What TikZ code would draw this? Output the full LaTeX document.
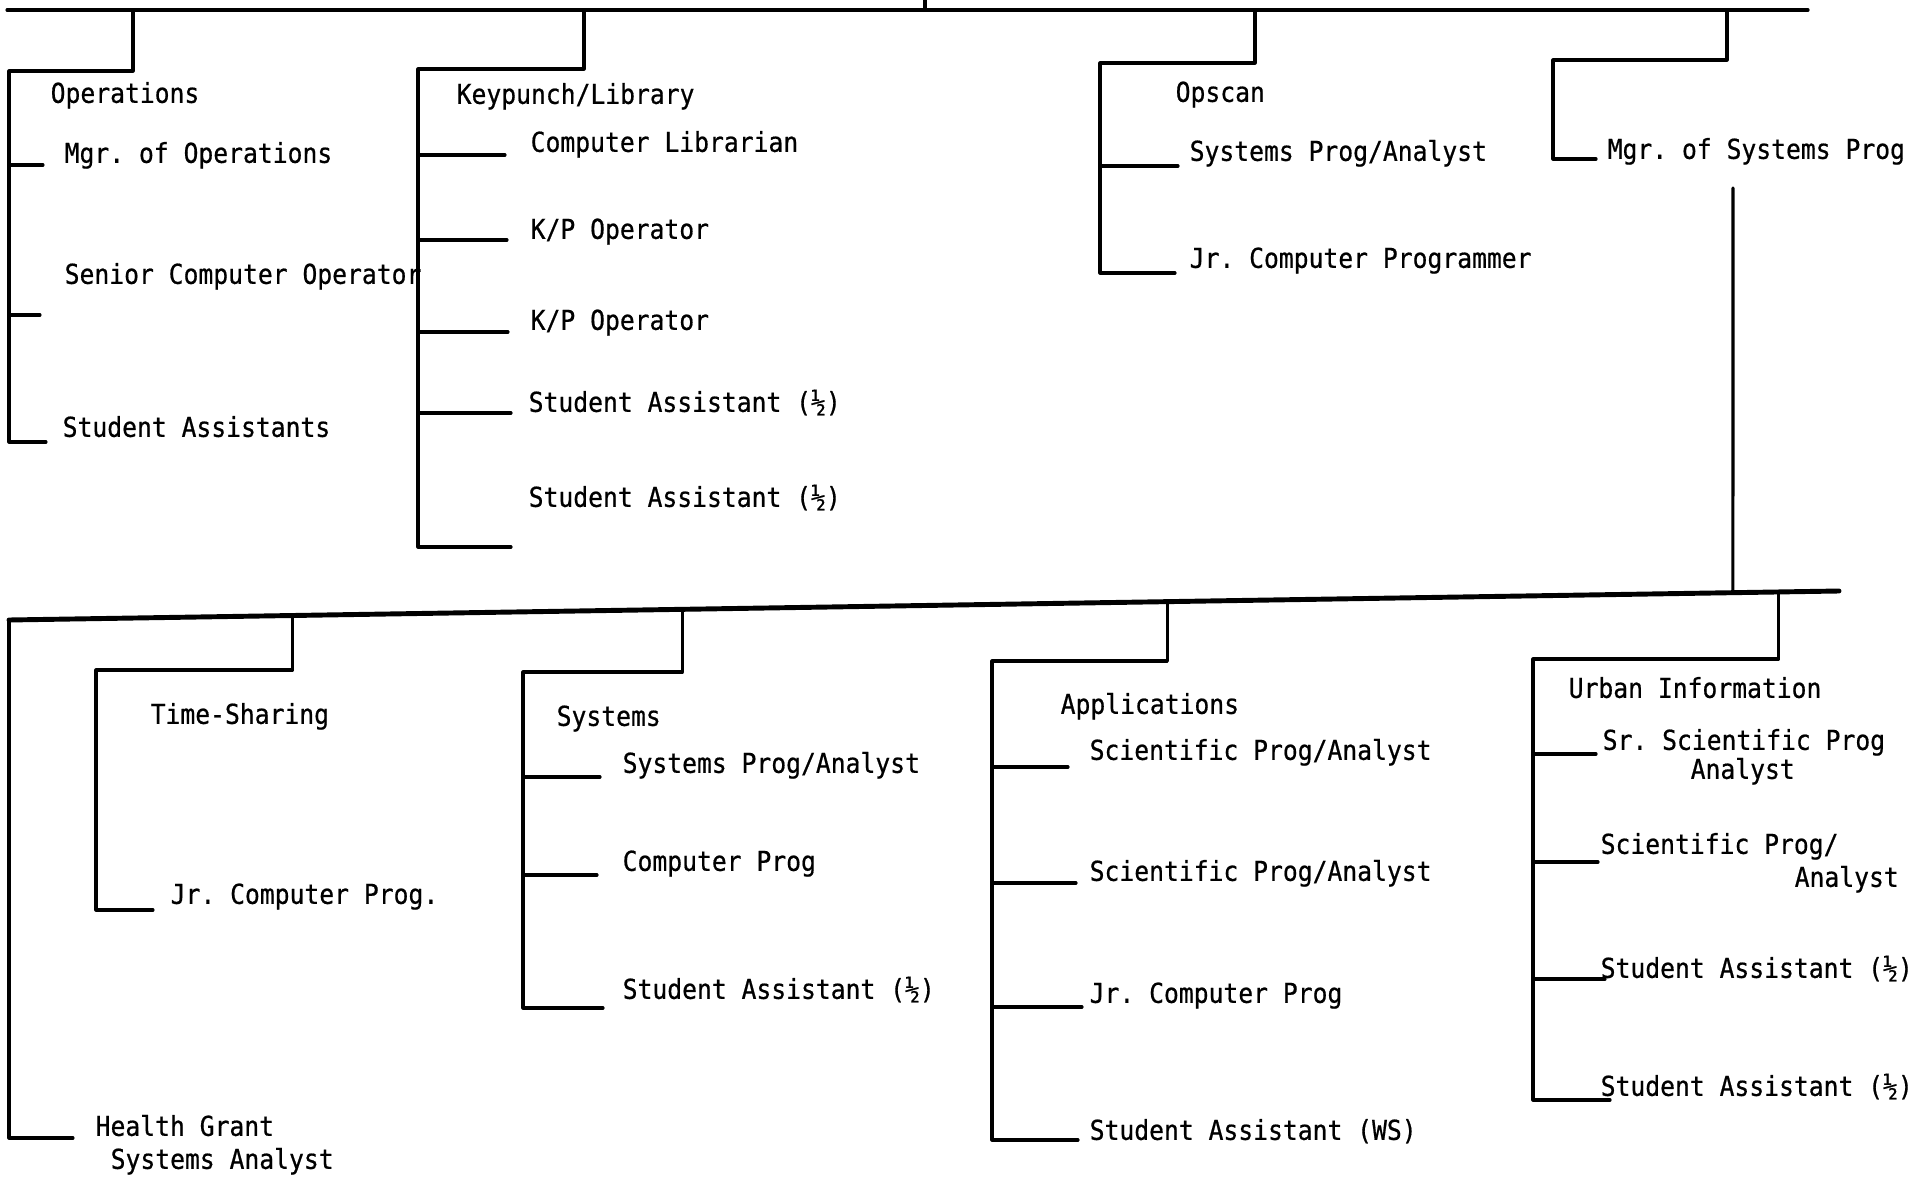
\documentclass[tikz,border=0pt]{standalone}
\usepackage{fontspec}
\setmonofont[FakeStretch=0.9, FakeBold=0.6]{DejaVu Sans Mono}
\usetikzlibrary{calc}

\begin{document}
\begin{tikzpicture}[x=0.01cm, y=-0.01cm, line cap=round, line join=round,
	org/.style={line width=0.9pt},
	trunk/.style={line width=1.4pt},
	lbl/.style={anchor=west, inner sep=0pt, text height=5.6pt, text depth=0pt,
		font=\ttfamily\fontsize{7.8pt}{9pt}\selectfont}]
\useasboundingbox (0,0) rectangle (1924,1179);

%========================
% Upper level
%========================
\coordinate (up) at (925,0);
\coordinate (topL) at (7,10);
\coordinate (topR) at (1808,10);
\draw[org] (topL) -- (topR);
\draw[org] (up) -- (up |- topL);

% Operations
\node[lbl] (ops) at (50,93) {Operations};
\node[lbl] (mgrops) at (64,153) {Mgr. of Operations};
\node[lbl] (senop) at (64,274) {Senior Computer Operator};
\node[lbl] (opsstu) at (62,427) {Student Assistants};
\coordinate (ops-drop) at (133,71);
\coordinate (ops-bus) at (9,71);
\coordinate (t-mgrops) at (43,165);
\coordinate (t-senop) at (40,315);
\coordinate (t-opsstu) at (46,442);
\draw[org] (ops-drop |- topL) -- (ops-drop) -- (ops-bus) -- (ops-bus |- t-opsstu) -- (t-opsstu);
\foreach \t in {t-mgrops, t-senop}
	\draw[org] (ops-bus |- \t) -- (\t);

% Keypunch/Library
\node[lbl] (kp) at (456,94) {Keypunch/Library};
\node[lbl] (complib) at (530,142) {Computer Librarian};
\node[lbl] (kpop1) at (530,229) {K/P Operator};
\node[lbl] (kpop2) at (530,320) {K/P Operator};
\node[lbl] (kpstu1) at (528,402) {Student Assistant (½)};
\node[lbl] (kpstu2) at (528,497) {Student Assistant (½)};
\coordinate (kp-drop) at (584,69);
\coordinate (kp-bus) at (418,69);
\coordinate (t-complib) at (505,155);
\coordinate (t-kpop1) at (507,240);
\coordinate (t-kpop2) at (508,332);
\coordinate (t-kpstu1) at (511,413);
\coordinate (t-kpstu2) at (511,547);
\draw[org] (kp-drop |- topL) -- (kp-drop) -- (kp-bus) -- (kp-bus |- t-kpstu2) -- (t-kpstu2);
\foreach \t in {t-complib, t-kpop1, t-kpop2, t-kpstu1}
	\draw[org] (kp-bus |- \t) -- (\t);

% Opscan
\node[lbl] (opscan) at (1175,92) {Opscan};
\node[lbl] (ossys) at (1189,151) {Systems Prog/Analyst};
\node[lbl] (osjr) at (1189,258) {Jr. Computer Programmer};
\coordinate (os-drop) at (1255,63);
\coordinate (os-bus) at (1100,63);
\coordinate (t-ossys) at (1178,166);
\coordinate (t-osjr) at (1175,273);
\draw[org] (os-drop |- topL) -- (os-drop) -- (os-bus) -- (os-bus |- t-osjr) -- (t-osjr);
\draw[org] (os-bus |- t-ossys) -- (t-ossys);

% Mgr. of Systems Prog
\node[lbl] (mgrsys) at (1607,149) {Mgr. of Systems Prog};
\coordinate (ms-drop) at (1727,60);
\coordinate (ms-bus) at (1553,60);
\coordinate (t-mgrsys) at (1596,159);
\draw[org] (ms-drop |- topL) -- (ms-drop) -- (ms-bus) -- (ms-bus |- t-mgrsys) -- (t-mgrsys);

%========================
% Lower level
%========================
\coordinate (botL) at (9,620);
\coordinate (botR) at (1839,591);
\draw[trunk] (botL) -- (botR);
\coordinate (ms-down) at (1733,188);
\draw[org] (ms-down) -- ($(botL)!0.942!(botR)$);

% Health Grant
\node[lbl] (hg1) at (95,1126) {Health Grant};
\node[lbl] (hg2) at (110,1159) {Systems Analyst};
\coordinate (t-hg) at (73,1138);
\draw[org] (botL) -- (botL |- t-hg) -- (t-hg);

% Time-Sharing
\node[lbl] (ts) at (150,714) {Time-Sharing};
\node[lbl] (tsjr) at (170,894) {Jr. Computer Prog.};
\coordinate (ts-top) at ($(botL)!0.155!(botR)$);
\coordinate (ts-bus) at (96,670);
\coordinate (t-tsjr) at (153,910);
\draw[org] (ts-top) -- (ts-top |- ts-bus) -- (ts-bus) -- (ts-bus |- t-tsjr) -- (t-tsjr);

% Systems
\node[lbl] (sys) at (556,716) {Systems};
\node[lbl] (sysspa) at (622,763) {Systems Prog/Analyst};
\node[lbl] (syscp) at (622,861) {Computer Prog};
\node[lbl] (sysstu) at (622,989) {Student Assistant (½)};
\coordinate (sys-top) at ($(botL)!0.368!(botR)$);
\coordinate (sys-bus) at (523,672);
\coordinate (t-sysspa) at (600,777);
\coordinate (t-syscp) at (597,875);
\coordinate (t-sysstu) at (603,1008);
\draw[org] (sys-top) -- (sys-top |- sys-bus) -- (sys-bus) -- (sys-bus |- t-sysstu) -- (t-sysstu);
\foreach \t in {t-sysspa, t-syscp}
	\draw[org] (sys-bus |- \t) -- (\t);

% Applications
\node[lbl] (app) at (1060,704) {Applications};
\node[lbl] (appspa1) at (1089,750) {Scientific Prog/Analyst};
\node[lbl] (appspa2) at (1089,871) {Scientific Prog/Analyst};
\node[lbl] (appjr) at (1089,993) {Jr. Computer Prog};
\node[lbl] (appstu) at (1089,1130) {Student Assistant (WS)};
\coordinate (app-top) at ($(botL)!0.633!(botR)$);
\coordinate (app-bus) at (992,661);
\coordinate (t-appspa1) at (1068,767);
\coordinate (t-appspa2) at (1076,883);
\coordinate (t-appjr) at (1082,1007);
\coordinate (t-appstu) at (1078,1140);
\draw[org] (app-top) -- (app-top |- app-bus) -- (app-bus) -- (app-bus |- t-appstu) -- (t-appstu);
\foreach \t in {t-appspa1, t-appspa2, t-appjr}
	\draw[org] (app-bus |- \t) -- (\t);

% Urban Information
\node[lbl] (urb) at (1568,688) {Urban Information};
\node[lbl] (urbsr1) at (1602,740) {Sr. Scientific Prog};
\node[lbl] (urbsr2) at (1690,769) {Analyst};
\node[lbl] (urbsp1) at (1600,844) {Scientific Prog/};
\node[lbl] (urbsp2) at (1794,877) {Analyst};
\node[lbl] (urbstu1) at (1600,968) {Student Assistant (½)};
\node[lbl] (urbstu2) at (1600,1086) {Student Assistant (½)};
\coordinate (urb-top) at ($(botL)!0.967!(botR)$);
\coordinate (urb-bus) at (1533,659);
\coordinate (t-urbsr) at (1596,754);
\coordinate (t-urbsp) at (1598,862);
\coordinate (t-urbstu1) at (1605,979);
\coordinate (t-urbstu2) at (1610,1100);
\draw[org] (urb-top) -- (urb-top |- urb-bus) -- (urb-bus) -- (urb-bus |- t-urbstu2) -- (t-urbstu2);
\foreach \t in {t-urbsr, t-urbsp, t-urbstu1}
	\draw[org] (urb-bus |- \t) -- (\t);

\end{tikzpicture}
\end{document}
